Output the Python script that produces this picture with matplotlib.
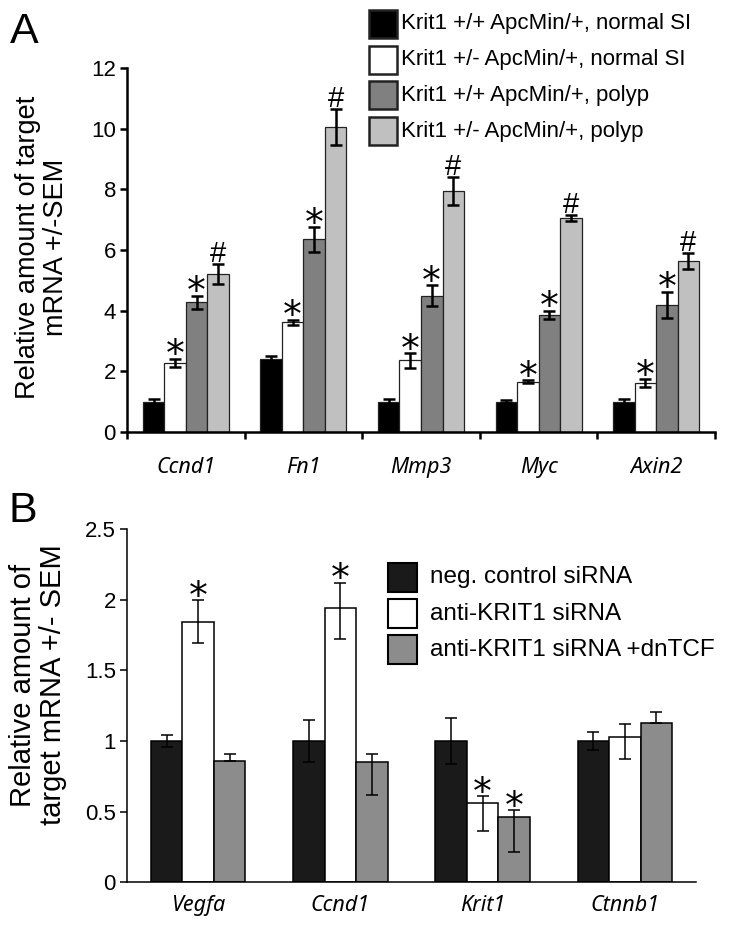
import matplotlib
matplotlib.use('Agg')
import matplotlib.pyplot as plt
import numpy as np
from matplotlib.patches import Rectangle

# ---------------- Panel A data ----------------
genes_a = ['Ccnd1', 'Fn1', 'Mmp3', 'Myc', 'Axin2']
labels_a = ['Krit1 +/+ ApcMin/+, normal SI', 'Krit1 +/- ApcMin/+, normal SI',
            'Krit1 +/+ ApcMin/+, polyp', 'Krit1 +/- ApcMin/+, polyp']
wt_normal = [1.0, 2.42, 1.0, 1.0, 1.0]
wt_normal_err = [0.08, 0.07, 0.08, 0.04, 0.08]
het_normal = [2.28, 3.62, 2.36, 1.66, 1.61]
het_normal_err = [0.14, 0.08, 0.24, 0.04, 0.13]
wt_polyp = [4.28, 6.35, 4.5, 3.87, 4.2]
wt_polyp_err = [0.22, 0.4, 0.34, 0.13, 0.43]
het_polyp = [5.2, 10.05, 7.95, 7.05, 5.64]
het_polyp_err = [0.33, 0.6, 0.46, 0.09, 0.26]
marks_a = ['', '*', '*', '#']
yticks_a = [0, 2, 4, 6, 8, 10, 12]

# ---------------- Panel B data ----------------
genes_b = ['Vegfa', 'Ccnd1', 'Krit1', 'Ctnnb1']
labels_b = ['neg. control siRNA', 'anti-KRIT1 siRNA', 'anti-KRIT1 siRNA +dnTCF']
neg_ctrl = [1.0, 1.0, 1.0, 1.0]
neg_ctrl_err_lo = [0.04, 0.15, 0.165, 0.065]
neg_ctrl_err_up = [0.04, 0.15, 0.165, 0.065]
anti = [1.84, 1.94, 0.56, 1.03]
anti_err_lo = [0.15, 0.22, 0.195, 0.155]
anti_err_up = [0.155, 0.18, 0.05, 0.09]
dntcf = [0.86, 0.85, 0.46, 1.13]
dntcf_err_lo = [0.0, 0.23, 0.245, 0.0]
dntcf_err_up = [0.05, 0.06, 0.05, 0.075]
sig_anti = [True, True, True, False]
sig_dntcf = [False, False, True, False]
yticks_b = [0, 0.5, 1, 1.5, 2, 2.5]
yticklabels_b = ['0', '0.5', '1', '1.5', '2', '2.5']

FONT = 'Liberation Sans'
ITAL = 'Noto Sans'
STAR = 'DejaVu Sans'
W, H = 731, 926
fig = plt.figure(figsize=(W / 100, H / 100), dpi=100)

def fx(px):
    return px / W

def fy(py):
    return 1 - py / H

def star(ax, x, y):
    ax.annotate('*', xy=(x, y), xytext=(0, -5.5), textcoords='offset points',
                ha='center', va='baseline', fontsize=27, family=STAR)

def hash_mark(ax, x, y):
    ax.annotate('#', xy=(x, y), xytext=(0, 1.5), textcoords='offset points',
                ha='center', va='baseline', fontsize=21, family=FONT)

# ================= Panel A =================
axA = fig.add_axes([fx(127), fy(432), fx(715) - fx(127), fy(68) - fy(432)])
colors_a = ['#000000', '#ffffff', '#808080', '#c0c0c0']
vals_a = [wt_normal, het_normal, wt_polyp, het_polyp]
errs_a = [wt_normal_err, het_normal_err, wt_polyp_err, het_polyp_err]
bw = 0.183
xa = np.arange(len(genes_a))
for i, (v, e, c, m) in enumerate(zip(vals_a, errs_a, colors_a, marks_a)):
    xpos = xa + (i - 1.5) * bw
    axA.bar(xpos, v, width=bw, color=c, edgecolor='#222222', linewidth=0.9, zorder=2)
    axA.errorbar(xpos, v, yerr=e, fmt='none', ecolor='black', elinewidth=1.8,
                 capsize=4.3, capthick=1.8, zorder=3)
    if m:
        for xp, vv, ee in zip(xpos, v, e):
            if m == '*':
                star(axA, xp, vv + ee)
            else:
                hash_mark(axA, xp, vv + ee)

axA.set_xlim(-0.5, len(genes_a) - 0.5)
axA.set_ylim(0, 12)
axA.set_yticks(yticks_a)
axA.set_yticklabels([str(t) for t in yticks_a], fontsize=16, family=FONT)
axA.set_xticks(np.arange(-0.5, len(genes_a)), labels=[''] * (len(genes_a) + 1))
axA.set_xticks(xa, labels=genes_a, minor=True)
axA.tick_params(axis='x', which='minor', length=0, pad=18)
axA.tick_params(axis='x', which='major', length=5, width=1.8, direction='out')
axA.tick_params(axis='y', length=5, width=1.8, direction='out', pad=3)
for lab in axA.get_xticklabels(minor=True):
    lab.set_fontstyle('italic')
    lab.set_family(ITAL)
    lab.set_fontsize(15.5)
for s in ['top', 'right']:
    axA.spines[s].set_visible(False)
axA.spines['left'].set_linewidth(1.8)
axA.spines['bottom'].set_linewidth(1.8)

fig.text(fx(42), fy(247), 'Relative amount of target\nmRNA +/-SEM', rotation=90,
         ha='center', va='center', multialignment='center', fontsize=19.5, family=FONT,
         linespacing=1.1)
fig.text(fx(10), fy(43), 'A', fontsize=31, family=FONT, ha='left', va='baseline')

# legend A (manual)
for i, (lab, c) in enumerate(zip(labels_a, colors_a)):
    top = 10 + i * 35.7
    fig.add_artist(Rectangle((fx(369), fy(top + 28)), fx(397) - fx(369), fy(top) - fy(top + 28),
                             transform=fig.transFigure, facecolor=c, edgecolor='#222222', linewidth=1.8))
    fig.text(fx(401), fy(top + 14), lab, fontsize=16, family=FONT, ha='left', va='center')

# ================= Panel B =================
axB = fig.add_axes([fx(127), fy(882.3), fx(696) - fx(127), fy(529) - fy(882.3)])
colors_b = ['#1a1a1a', '#ffffff', '#8c8c8c']
vals_b = [neg_ctrl, anti, dntcf]
errs_b = [[neg_ctrl_err_lo, neg_ctrl_err_up], [anti_err_lo, anti_err_up], [dntcf_err_lo, dntcf_err_up]]
sig_b = [[False] * 4, sig_anti, sig_dntcf]
bwb = 0.222
xb = np.arange(len(genes_b))
for i, (v, e, c, sg) in enumerate(zip(vals_b, errs_b, colors_b, sig_b)):
    xpos = xb + (i - 1) * bwb
    axB.bar(xpos, v, width=bwb, color=c, edgecolor='black', linewidth=1.1, zorder=2)
    axB.errorbar(xpos, v, yerr=e, fmt='none', ecolor='black', elinewidth=1.1,
                 capsize=4, capthick=1.1, zorder=3)
    for xp, vv, eu, s in zip(xpos, v, e[1], sg):
        if s:
            star(axB, xp, vv + eu)

axB.set_xlim(-0.5, len(genes_b) - 0.5)
axB.set_ylim(0, 2.5)
axB.set_yticks(yticks_b)
axB.set_yticklabels(yticklabels_b, fontsize=16, family=FONT)
axB.set_xticks(xb, labels=genes_b)
axB.tick_params(axis='x', length=0, pad=9)
axB.tick_params(axis='y', length=5, width=1.1, direction='out', pad=3)
for lab in axB.get_xticklabels():
    lab.set_fontstyle('italic')
    lab.set_family(ITAL)
    lab.set_fontsize(15.5)
for s in ['top', 'right']:
    axB.spines[s].set_visible(False)
axB.spines['left'].set_linewidth(1.1)
axB.spines['bottom'].set_linewidth(1.1)

fig.text(fx(38), fy(685), 'Relative amount of\ntarget mRNA +/- SEM', rotation=90,
         ha='center', va='center', multialignment='center', fontsize=21, family=FONT,
         linespacing=1.05)
fig.text(fx(9), fy(522), 'B', fontsize=31, family=FONT, ha='left', va='baseline')

for i, (lab, c) in enumerate(zip(labels_b, colors_b)):
    top = 563 + i * 36
    fig.add_artist(Rectangle((fx(388), fy(top + 29)), fx(417) - fx(388), fy(top) - fy(top + 29),
                             transform=fig.transFigure, facecolor=c, edgecolor='black', linewidth=1.5))
    fig.text(fx(430), fy(top + 14.5), lab, fontsize=17.5, family=FONT, ha='left', va='center')

fig.savefig('out.png', dpi=100)
